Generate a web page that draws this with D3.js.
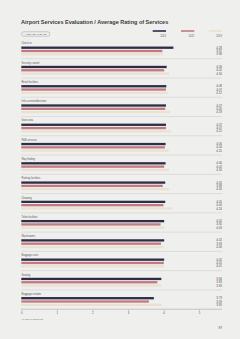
<!DOCTYPE html>
<html>
<head>
<meta charset="utf-8">
<script src="https://cdn.jsdelivr.net/npm/d3@7"></script>
<style>
    html, body { margin: 0; padding: 0; background: #efefed; }
    svg { display: block; font-family: "Liberation Sans", Arial, sans-serif; }
</style>
</head>
<body>
<div id="chart"></div>
<script>
var categories = ["Check-in", "Security control", "Retail facilities", "Info screens/direction",
    "Gate area", "F&B services", "Way finding", "Parking facilities", "Cleaning",
    "Toilet facilities", "Washrooms", "Baggage carts", "Seating", "Baggage reclaim"];
var years = ["2023", "2022", "2019"];
var values2023 = [4.28, 4.09, 4.08, 4.07, 4.07, 4.06, 4.06, 4.05, 4.05, 4.02, 4.02, 4.02, 3.94, 3.73];
var values2022 = [3.97, 4.02, 4.07, 4.05, 4.07, 4.04, 4.02, 3.98, 4.00, 3.92, 3.93, 4.01, 3.83, 3.59];
var values2019 = [3.98, 4.16, 4.12, 4.19, 4.22, 4.15, 4.16, 4.16, 4.24, 4.03, 4.00, 4.01, 3.93, 3.95];
var xTicks = [0, 1, 2, 3, 4, 5];

var colors = { "2023": "#2c2d47", "2022": "#c27a80", "2019": "#e9e2d3" };

var W = 240, H = 339;
var svg = d3.select("#chart").append("svg")
    .attr("width", W)
    .attr("height", H);

svg.append("rect").attr("width", W).attr("height", H).attr("fill", "#efefed");

// scales
var x = d3.scaleLinear().domain([0, 5]).range([21.3, 199]);
var y = d3.scaleBand().domain(categories).range([41.5, 41.5 + 14 * 19.27]);
var yInner = d3.scaleBand().domain(years).range([4.55, 14.45]).paddingInner(0.3).paddingOuter(0.15);

var rightEdge = 222;

// title
svg.append("text")
    .attr("x", 21).attr("y", 23.6)
    .attr("font-size", 5.5).attr("font-weight", "bold").attr("fill", "#3a3a3a")
    .text("Airport Services Evaluation / Average Rating of Services");

// pill
svg.append("rect")
    .attr("x", 21.5).attr("y", 31.8).attr("width", 28.5).attr("height", 4.4)
    .attr("rx", 2.2).attr("fill", "none").attr("stroke", "#888").attr("stroke-width", 0.4);
svg.append("text")
    .attr("x", 35.7).attr("y", 34.9).attr("text-anchor", "middle")
    .attr("font-size", 2.2).attr("fill", "#555")
    .text("AVERAGE / 5 SCALE");

// legend
var legendEnd = { "2023": 166, "2022": 194.3, "2019": 222 };
years.forEach(function(yr){
    svg.append("rect")
        .attr("x", legendEnd[yr] - 13.3).attr("y", 30.2)
        .attr("width", 13.3).attr("height", 1.6)
        .attr("fill", colors[yr]);
    svg.append("text")
        .attr("x", legendEnd[yr]).attr("y", 36.6).attr("text-anchor", "end")
        .attr("font-size", 2.6).attr("fill", "#666")
        .text(yr);
});

var rows = categories.map(function(c, i){
    return { name: c, vals: { "2023": values2023[i], "2022": values2022[i], "2019": values2019[i] } };
});

var group = svg.selectAll(".group")
    .data(rows)
    .enter().append("g")
    .attr("class", "group")
    .attr("transform", function(d){ return "translate(0," + y(d.name) + ")"; });

group.append("text")
    .attr("x", 21.5).attr("y", 2.9)
    .attr("font-size", 2.6).attr("fill", "#555")
    .text(function(d){ return d.name; });

group.selectAll(".bar")
    .data(function(d){ return years.map(function(yr){ return { yr: yr, v: d.vals[yr] }; }); })
    .enter().append("rect")
    .attr("class", "bar")
    .attr("x", x(0))
    .attr("y", function(d){ return yInner(d.yr); })
    .attr("width", function(d){ return x(d.v) - x(0); })
    .attr("height", yInner.bandwidth())
    .attr("fill", function(d){ return colors[d.yr]; });

group.selectAll(".val")
    .data(function(d){ return years.map(function(yr){ return { yr: yr, v: d.vals[yr] }; }); })
    .enter().append("text")
    .attr("class", "val")
    .attr("x", rightEdge)
    .attr("y", function(d){ return yInner(d.yr) + yInner.bandwidth() / 2 + 1.05; })
    .attr("text-anchor", "end")
    .attr("font-size", 3).attr("fill", "#555")
    .text(function(d){ return d3.format(".2f")(d.v); });

// separators (the last one is the axis line)
group.filter(function(d, i){ return i < categories.length - 1; })
    .append("line")
    .attr("x1", 21.3).attr("x2", rightEdge)
    .attr("y1", 17.2).attr("y2", 17.2)
    .attr("stroke", "#c8c8c8").attr("stroke-width", 0.5);

// x axis
var axisY = y(categories[categories.length - 1]) + 17.2;
svg.append("line")
    .attr("x1", 21.3).attr("x2", rightEdge)
    .attr("y1", axisY).attr("y2", axisY)
    .attr("stroke", "#999").attr("stroke-width", 0.5);

var xAxis = svg.append("g")
    .attr("transform", "translate(0," + axisY + ")")
    .call(d3.axisBottom(x).tickValues(xTicks).tickFormat(d3.format("d")).tickSize(1.5).tickPadding(1.2));
xAxis.select(".domain").remove();
xAxis.selectAll(".tick line").attr("stroke", "#999").attr("stroke-width", 0.4);
xAxis.selectAll(".tick text").attr("font-size", 2.8).attr("fill", "#555").attr("font-family", null);

// footnote and page number
svg.append("text")
    .attr("x", 21.5).attr("y", 320)
    .attr("font-size", 2.3).attr("fill", "#666")
    .text("* 1 Poor, 5: Excellent");

svg.append("text")
    .attr("x", rightEdge).attr("y", 329)
    .attr("text-anchor", "end")
    .attr("font-size", 3.2).attr("fill", "#444")
    .text("97");
</script>
</body>
</html>
